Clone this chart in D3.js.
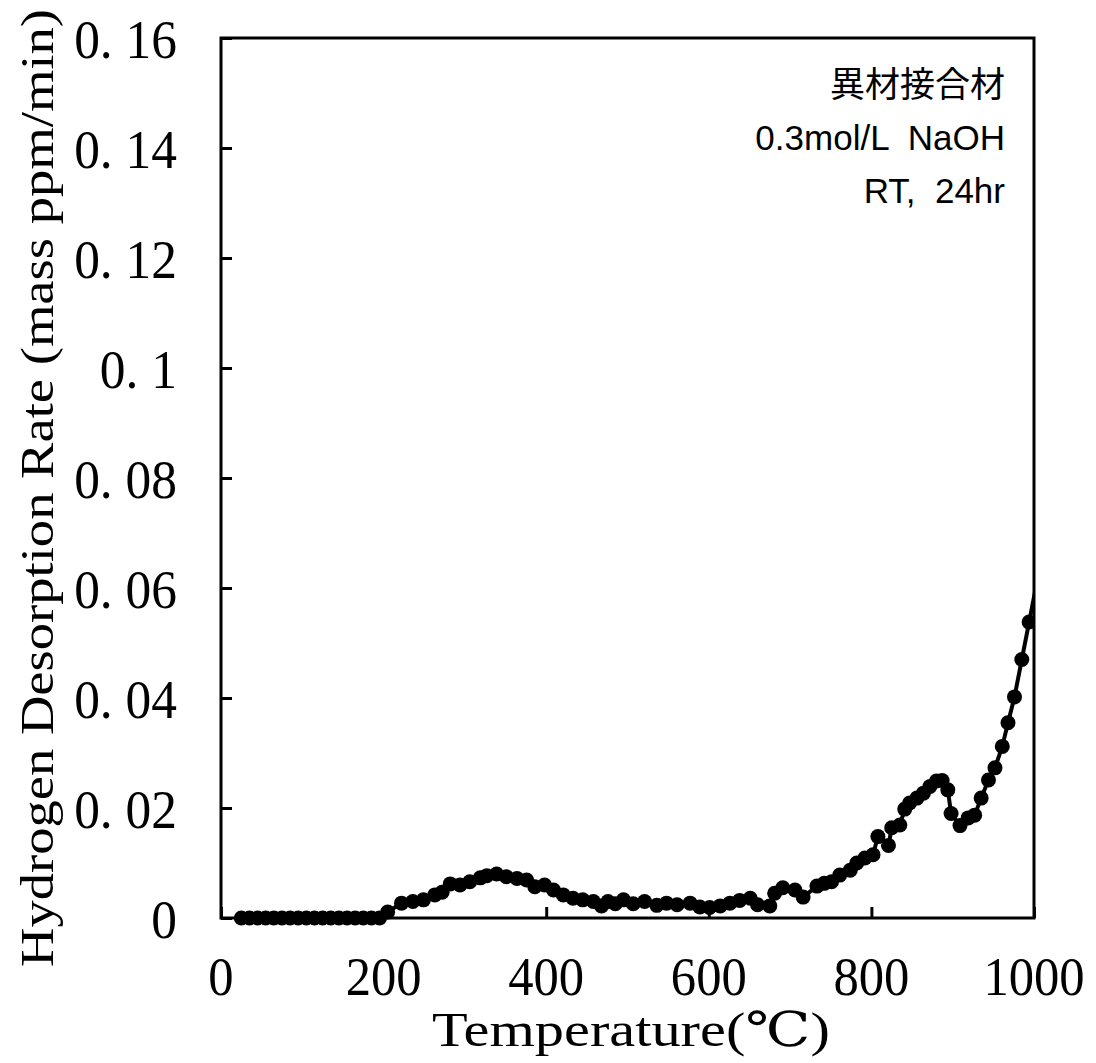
<!DOCTYPE html>
<html>
<head>
<meta charset="utf-8">
<script src="https://cdn.jsdelivr.net/npm/d3@7"></script>
<style>
  html, body { margin: 0; padding: 0; background: #fff; }
  svg { display: block; }
</style>
</head>
<body>
<svg id="chart" width="1096" height="1063"></svg>
<script>
// Thermal desorption measurement: temperature (°C) and hydrogen desorption rate (mass ppm/min)
const temperature = [
  25, 35, 45, 55, 65, 75, 85, 95, 105, 115, 125, 135, 145, 155, 165, 175, 185, 195,
  205, 222, 236, 249, 263, 272, 282, 294, 306, 319, 327, 339, 351, 364, 376, 386,
  398, 409, 421, 433, 445, 458, 468, 476, 485, 495, 507, 521, 536, 548, 561, 577,
  589, 601, 614, 626, 638, 651, 660, 675, 681, 691, 706, 716, 733, 742, 751, 761,
  774, 782, 792, 802, 808, 821, 825, 835, 841, 847, 856, 864, 872, 880, 887, 894,
  898, 909, 919, 927, 935, 944, 952, 961, 968, 976, 985, 994, 1010
];
const desorptionRate = [
  0, 0, 0, 0, 0, 0, 0, 0, 0, 0, 0, 0, 0, 0, 0, 0, 0, 0,
  0.0011, 0.0027, 0.0030, 0.0033, 0.0042, 0.0047, 0.0062, 0.0060, 0.0066, 0.0073, 0.0077, 0.0080, 0.0075, 0.0072, 0.0069, 0.0057,
  0.0060, 0.0051, 0.0042, 0.0036, 0.0033, 0.0030, 0.0022, 0.0030, 0.0026, 0.0033, 0.0026, 0.0030, 0.0023, 0.0027, 0.0024, 0.0027,
  0.0020, 0.0019, 0.0022, 0.0027, 0.0032, 0.0036, 0.0024, 0.0022, 0.0045, 0.0055, 0.0051, 0.0038, 0.0058, 0.0063, 0.0066, 0.0078,
  0.0087, 0.0100, 0.0109, 0.0115, 0.0148, 0.0132, 0.0164, 0.0169, 0.0198, 0.0209, 0.0218, 0.0227, 0.0239, 0.0249, 0.0250, 0.0233,
  0.0190, 0.0168, 0.0182, 0.0187, 0.0218, 0.0251, 0.0273, 0.0312, 0.0355, 0.0402, 0.0470, 0.0538, 0.0660
];
const xTicks = [0, 200, 400, 600, 800, 1000];
const yTicks = [0, 0.02, 0.04, 0.06, 0.08, 0.1, 0.12, 0.14, 0.16];
const yTickLabels = ["0", "0. 02", "0. 04", "0. 06", "0. 08", "0. 1", "0. 12", "0. 14", "0. 16"];
const noteLines = ["異材接合材", "0.3mol/L  NaOH", "RT,  24hr"];

const data = temperature.map((t, i) => ({ t, v: desorptionRate[i] }));

const plot = { left: 221, right: 1034, top: 38, bottom: 918 };
const svg = d3.select("#chart");

const x = d3.scaleLinear().domain([0, 1000]).range([plot.left, plot.right]);
const y = d3.scaleLinear().domain([0, 0.16]).range([plot.bottom, plot.top]);

const serif = "'Liberation Serif', 'DejaVu Serif', 'Noto Sans CJK JP', serif";

// Clip the series at the right edge of the frame
svg.append("defs").append("clipPath").attr("id", "plotClip")
  .append("rect").attr("x", 0).attr("y", 0)
  .attr("width", plot.right).attr("height", 1063);

const series = svg.append("g").attr("clip-path", "url(#plotClip)");

series.append("path")
  .datum(data)
  .attr("fill", "none")
  .attr("stroke", "#000")
  .attr("stroke-width", 4)
  .attr("stroke-linejoin", "round")
  .attr("d", d3.line().x(d => x(d.t)).y(d => y(d.v)));

series.selectAll("circle")
  .data(data)
  .join("circle")
  .attr("cx", d => x(d.t))
  .attr("cy", d => y(d.v))
  .attr("r", 7.5)
  .attr("fill", "#000");

// Inward ticks on the bottom and left edges
const xAxis = svg.append("g")
  .attr("transform", `translate(0,${plot.bottom})`)
  .call(d3.axisBottom(x).tickValues(xTicks).tickSizeInner(-11).tickSizeOuter(0).tickFormat(""));
const yAxis = svg.append("g")
  .attr("transform", `translate(${plot.left},0)`)
  .call(d3.axisLeft(y).tickValues(yTicks).tickSizeInner(-11).tickSizeOuter(0).tickFormat(""));
[xAxis, yAxis].forEach(g => {
  g.select(".domain").remove();
  g.selectAll(".tick line").attr("stroke", "#000").attr("stroke-width", 3);
});

// Frame
svg.append("rect")
  .attr("x", plot.left).attr("y", plot.top)
  .attr("width", plot.right - plot.left).attr("height", plot.bottom - plot.top)
  .attr("fill", "none").attr("stroke", "#000").attr("stroke-width", 3);

// Squeeze serif text horizontally by a factor
function condense(sel, factor) {
  sel.each(function () {
    const len = this.getComputedTextLength();
    d3.select(this).attr("textLength", len * factor).attr("lengthAdjust", "spacingAndGlyphs");
  });
}

// Tick labels
svg.append("g").selectAll("text")
  .data(xTicks)
  .join("text")
  .attr("x", d => x(d))
  .attr("y", 995)
  .attr("text-anchor", "middle")
  .attr("font-family", serif)
  .attr("font-size", 55)
  .attr("fill", "#000")
  .text(d => d)
  .call(condense, 0.92);

svg.append("g").selectAll("text")
  .data(yTicks)
  .join("text")
  .attr("x", 177)
  .attr("y", d => y(d) + 20)
  .attr("text-anchor", "end")
  .attr("font-family", serif)
  .attr("font-size", 55)
  .attr("fill", "#000")
  .text((d, i) => yTickLabels[i])
  .call(condense, 0.935);

// Axis titles
svg.append("text")
  .attr("x", 631)
  .attr("y", 1046)
  .attr("text-anchor", "middle")
  .attr("font-family", serif)
  .attr("font-size", 48)
  .attr("fill", "#000")
  .attr("textLength", 398)
  .attr("lengthAdjust", "spacingAndGlyphs")
  .text("Temperature(℃)");

svg.append("text")
  .attr("transform", "translate(53,488) rotate(-90)")
  .attr("text-anchor", "middle")
  .attr("font-family", serif)
  .attr("font-size", 46)
  .attr("fill", "#000")
  .attr("textLength", 958)
  .attr("lengthAdjust", "spacingAndGlyphs")
  .text("Hydrogen Desorption Rate (mass ppm/min)");

// Sample note
svg.append("g").selectAll("text")
  .data(noteLines)
  .join("text")
  .attr("x", 1005)
  .attr("y", (d, i) => 97 + i * 53)
  .attr("text-anchor", "end")
  .attr("font-family", "'Liberation Sans', Arial, 'Noto Sans CJK JP', sans-serif")
  .attr("font-size", 35)
  .attr("fill", "#000")
  .style("white-space", "pre")
  .text(d => d);
</script>
</body>
</html>
